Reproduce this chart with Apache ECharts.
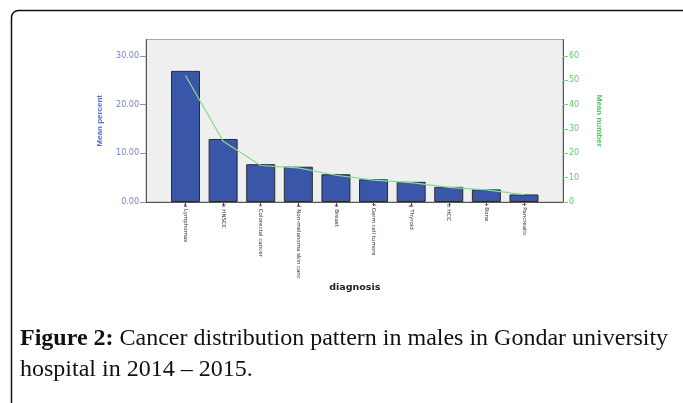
<!DOCTYPE html>
<html>
<head>
<meta charset="utf-8">
<script src="https://cdn.jsdelivr.net/npm/echarts@6/dist/echarts.min.js"></script>
<style>html,body{margin:0;padding:0;background:#fff;}#c{width:683px;height:403px;}</style>
</head>
<body>
<div id="c"></div>
<script>
const categories = ['a Lymphomas','b HNSCC','c Colorectal cancer','d Non-melanoma skin canc','e Breast','f Germ cell tumors','g Thyroid','h HCC','i Bone','j Pancreatic'];
const meanPercent = [26.94, 12.95, 7.77, 7.25, 5.70, 4.66, 4.15, 3.11, 2.59, 1.55];
const meanNumber = [52, 25, 15, 14, 11, 9, 8, 6, 5, 3];
const percentTicks = [0, 10, 20, 30];
const numberTicks = [0, 10, 20, 30, 40, 50, 60];

const chart = echarts.init(document.getElementById('c'), null, {renderer: 'canvas'});
const axisFont = 'DejaVu Sans';
chart.setOption({
  backgroundColor: '#ffffff',
  animation: false,
  grid: [
    {left: 166.7, width: 376.1, top: 39.5, height: 162.5, show: false},
    {left: 146, width: 417, top: 39.5, height: 162.5, show: true, backgroundColor: '#efefef', borderColor: '#a8a8a8', borderWidth: 1, z: -1}
  ],
  xAxis: [
    {
      type: 'category', gridIndex: 0, data: categories,
      axisLine: {show: true, lineStyle: {color: '#555', width: 1}},
      axisTick: {show: true, alignWithLabel: true, length: 4, lineStyle: {color: '#555'}},
      axisLabel: {interval: 0, rotate: -90, fontSize: 5.5, color: '#333', margin: 2, fontFamily: axisFont},
      name: 'diagnosis', nameLocation: 'middle', nameGap: 62,
      nameTextStyle: {fontSize: 9.5, fontWeight: 'bold', color: '#222', fontFamily: axisFont}
    },
    {type: 'value', gridIndex: 1, show: true, axisLine: {show: true, lineStyle: {color: '#555', width: 1}}, axisTick: {show: false}, axisLabel: {show: false}, splitLine: {show: false}}
  ],
  yAxis: [
    {
      type: 'value', gridIndex: 0, position: 'left', offset: 20.7, min: 0, max: 33.39,
      axisLine: {show: true, lineStyle: {color: '#555', width: 1}},
      axisTick: {show: true, length: 6, customValues: percentTicks, lineStyle: {color: '#7f8fd8'}},
      axisLabel: {customValues: percentTicks, formatter: v => v.toFixed(2), color: '#7080d0', fontSize: 8, margin: 7, fontFamily: axisFont},
      splitLine: {show: false},
      name: 'Mean percent', nameLocation: 'middle', nameGap: 42,
      nameTextStyle: {fontSize: 8, fontWeight: 'bold', color: '#5a6ad0', fontFamily: 'Liberation Sans'}
    },
    {
      type: 'value', gridIndex: 0, position: 'right', offset: 20.2, min: 0, max: 66.78,
      axisLine: {show: true, lineStyle: {color: '#555', width: 1}},
      axisTick: {show: true, length: 5, customValues: numberTicks, lineStyle: {color: '#6fd47c'}},
      axisLabel: {customValues: numberTicks, color: '#5ccc6c', fontSize: 8, margin: 6, fontFamily: axisFont},
      splitLine: {show: false},
      name: 'Mean number', nameLocation: 'middle', nameGap: 32, nameRotate: -90,
      nameTextStyle: {fontSize: 8, fontWeight: 'bold', color: '#4cc85e', fontFamily: 'Liberation Sans'}
    },
    {type: 'value', gridIndex: 1, show: false}
  ],
  series: [
    {
      type: 'bar', xAxisIndex: 0, yAxisIndex: 0, data: meanPercent, barWidth: 29,
      itemStyle: {color: '#3a56a8', borderColor: '#2b2b2b', borderWidth: 1}
    },
    {
      type: 'line', xAxisIndex: 0, yAxisIndex: 1, data: meanNumber, showSymbol: false, z: 5,
      lineStyle: {color: '#86dc8e', width: 1.2}
    }
  ],
  graphic: [
    {type: 'rect', shape: {x: 11.5, y: 10.5, width: 720, height: 450, r: 7}, style: {fill: 'none', stroke: '#111', lineWidth: 1.5}, silent: true},
    {type: 'text', x: 20, y: 339, style: {text: '{b|Figure 2:} Cancer distribution pattern in males in Gondar university', rich: {b: {fontWeight: 'bold', fontSize: 24, fontFamily: 'Liberation Serif', fill: '#111'}}, fontSize: 24, fontFamily: 'Liberation Serif', fill: '#111', verticalAlign: 'middle'}},
    {type: 'text', x: 20, y: 370, style: {text: 'hospital in 2014 \u2013 2015.', fontSize: 24, fontFamily: 'Liberation Serif', fill: '#111', verticalAlign: 'middle'}}
  ]
});
</script>
</body>
</html>
